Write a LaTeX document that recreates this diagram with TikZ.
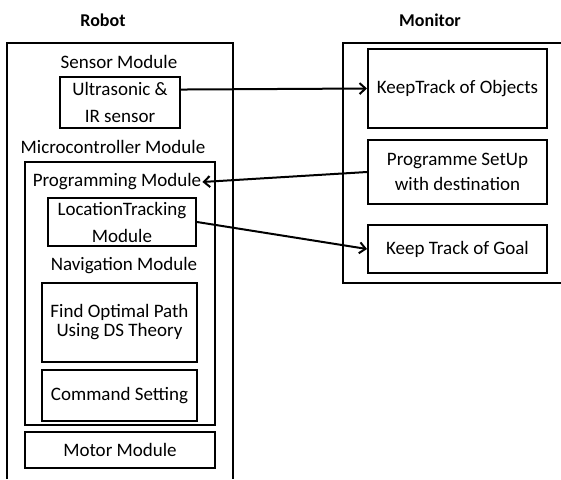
\documentclass[tikz,border=0pt]{standalone}
\usepackage{fontspec}
\setmainfont{Carlito}
\usetikzlibrary{arrows.meta, positioning}
\tikzset{
  part/.style={rectangle, draw=black, line width=2pt, align=center, inner sep=1pt, font=\fontsize{19}{22}\selectfont},
  modname/.style={inner sep=1pt, font=\fontsize{19}{22}\selectfont},
  side/.style={inner sep=1pt, font=\fontsize{18}{20}\selectfont\bfseries},
  frame/.style={draw=black, line width=1.3pt},
  arrow/.style={-{Straight Barb[length=6pt, width=11pt]}, line width=2pt},
}
\begin{document}
\begin{tikzpicture}[x=1pt, y=-1pt]
\useasboundingbox (0,0) rectangle (561,479);
% titles
\node[side] (robot) at (103,20) {Robot};
\node[side] (mon) at (430,20) {Monitor};
% robot side
\draw[frame] (7,479) |- (233,43) -- (233,479);
\node[modname] (sm) at (119,62) {Sensor Module};
\node[part, minimum width=120pt, minimum height=51pt] (us) at (120,102.5) {Ultrasonic \&\\[5pt]IR sensor};
\node[modname] (mc) at (113,147) {Microcontroller Module};
\draw[frame, line width=2pt] (25,162) rectangle (215,425);
\node[modname] (pm) at (117,182) {Programming Module};
\node[part, minimum width=148pt, minimum height=48pt] (lt) at (122,222) {LocationTracking\\[5pt]Module};
\node[modname] (nm) at (124,266) {Navigation Module};
\node[part, minimum width=155pt, minimum height=79pt] (fop) at (119.5,322.5) {Find Optimal Path\\[-3pt]Using DS Theory};
\node[part, minimum width=155pt, minimum height=51pt, below=6pt of fop] (cs) {Command Setting};
\node[part, minimum width=190pt, minimum height=36pt] (mm) at (120,450) {Motor Module};
% monitor side
\draw[frame] (561,43) -| (343,283) -- (561,283);
\node[part, minimum width=179pt, minimum height=79pt] (kto) at (457.5,88.5) {KeepTrack of Objects};
\node[part, minimum width=179pt, minimum height=64pt, below=10pt of kto] (ps) {Programme SetUp\\[3pt]with destination};
\node[part, minimum width=179pt, minimum height=48pt, below=19pt of ps] (ktg) {Keep Track of Goal};
% links
\draw[arrow] (us.12) -- (kto.west);
\draw[arrow] (ps.west) -- (pm.east);
\draw[arrow] (lt.east) -- (ktg.west);
\end{tikzpicture}
\end{document}
